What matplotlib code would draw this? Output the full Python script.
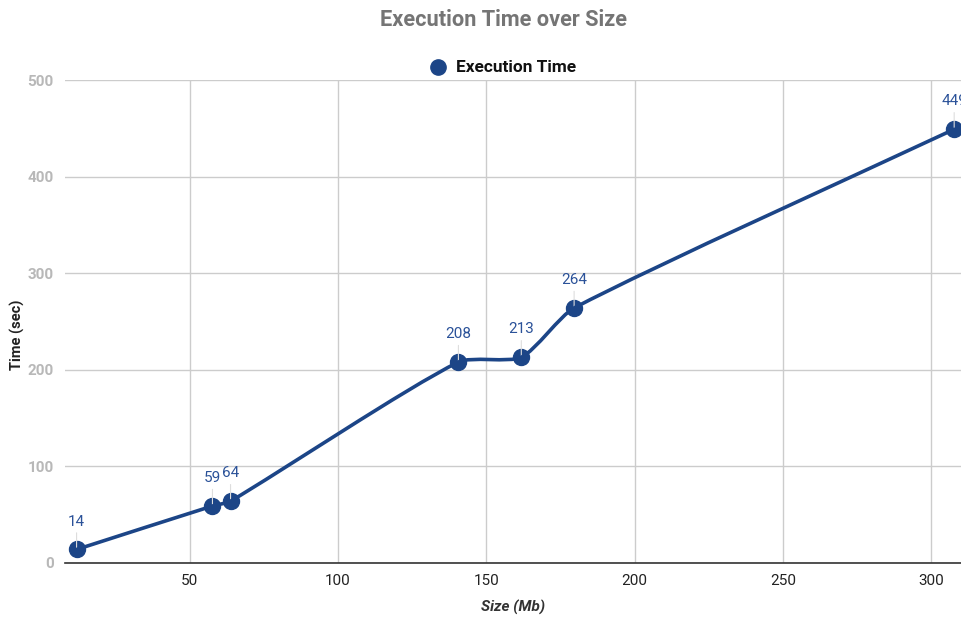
import numpy as np
import matplotlib
matplotlib.use("Agg")
import matplotlib.pyplot as plt
from matplotlib.path import Path
from matplotlib.patches import PathPatch
from matplotlib.lines import Line2D
from matplotlib.transforms import IdentityTransform

plt.rcParams['font.family'] = ['Roboto', 'DejaVu Sans']

# Data
sizes = [11.9, 57.7, 63.8, 140.6, 161.8, 179.6, 307.7]
times = [14, 59, 64, 208, 213, 264, 449]
labels = ['14', '59', '64', '208', '213', '264', '449']

LINE = '#1c4587'
LABEL = '#2b5299'
W, H = 961, 618

fig = plt.figure(figsize=(W / 100, H / 100), dpi=100)
ax = fig.add_axes([65 / W, (H - 563) / H, (W - 65) / W, (563 - 80) / H])
ax.set_xlim(8, 310)
ax.set_ylim(0, 500)


def smooth_path(pts, k=0.3):
    # tangent follows neighbours, control distance scaled by segment length
    n = len(pts)
    tang = []
    for i in range(n):
        a = pts[max(i - 1, 0)]
        b = pts[min(i + 1, n - 1)]
        d = b - a
        tang.append(d / np.hypot(*d))
    verts = [pts[0]]
    codes = [Path.MOVETO]
    for i in range(n - 1):
        p1, p2 = pts[i], pts[i + 1]
        L = np.hypot(*(p2 - p1))
        verts += [p1 + tang[i] * L * k, p2 - tang[i + 1] * L * k, p2]
        codes += [Path.CURVE4] * 3
    return Path(verts, codes)


# smoothing done in pixel space
disp = ax.transData.transform(np.column_stack([sizes, times]))
patch = PathPatch(smooth_path(disp, k=0.22), facecolor='none', edgecolor=LINE, lw=2.6,
                  zorder=3, capstyle='round', joinstyle='round')
patch.set_transform(IdentityTransform())
fig.add_artist(patch)

ax.plot(sizes, times, 'o', color=LINE, ms=11.5, zorder=4, clip_on=False)

# data labels with small leader lines
for x, y, s in zip(sizes, times, labels):
    ax.annotate(s, xy=(x, y), xytext=(0, 15), textcoords='offset points',
                ha='center', va='bottom', fontsize=11, color=LABEL, zorder=5,
                arrowprops=dict(arrowstyle='-', color='#dddddd', lw=0.8,
                                shrinkA=1, shrinkB=0))

ax.set_xticks([50, 100, 150, 200, 250, 300])
ax.set_yticks([0, 100, 200, 300, 400, 500])
ax.grid(True, color='#cccccc', lw=1)
ax.set_axisbelow(True)
for sp in ['top', 'right', 'left']:
    ax.spines[sp].set_visible(False)
ax.spines['bottom'].set_color('#333333')
ax.spines['bottom'].set_linewidth(1.2)
ax.tick_params(axis='both', length=0)
ax.tick_params(axis='x', labelsize=11, labelcolor='#222222', pad=8)
ax.tick_params(axis='y', labelsize=11, labelcolor='#b8b8b8', pad=8)
for t in ax.get_yticklabels():
    t.set_fontweight('bold')

ax.set_xlabel('Size (Mb)', fontsize=11, fontweight='bold', fontstyle='italic',
              color='#333333')
ax.xaxis.set_label_coords(0.5, (563 - 607) / 483)
ax.set_ylabel('Time (sec)', fontsize=10.5, fontweight='bold', color='#222222')
ax.yaxis.set_label_coords((17 - 65) / 896, (563 - 335) / 483)
ax.yaxis.label.set_va('center')
ax.xaxis.label.set_va('center')

fig.text(503 / W, 1 - 20 / H, 'Execution Time over Size', ha='center', va='center',
         fontsize=15.7, fontweight='bold', color='#757575')

# legend
fig.add_artist(Line2D([438 / W], [1 - 67 / H], marker='o', color=LINE, ls='none', ms=11,
                      transform=fig.transFigure))
fig.text(456 / W, 1 - 67 / H, 'Execution Time', ha='left', va='center',
         fontsize=12.4, fontweight='bold', color='#111111')

fig.savefig('out.png', dpi=100)
